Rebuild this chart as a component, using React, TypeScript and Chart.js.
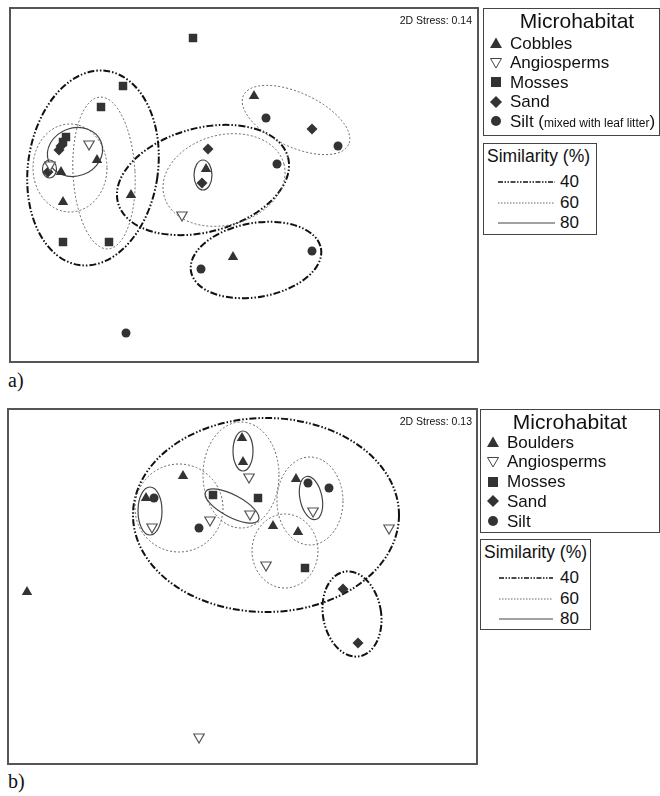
import React, { useEffect, useRef } from "react";
import { Chart, registerables } from "chart.js";
Chart.register(...registerables);

// ---------- Panel a) ----------
const A_CATEGORIES = ["Cobbles", "Angiosperms", "Mosses", "Sand", "Silt"];
const A_COBBLES = [[87, 202], [51, 190], [53, 160], [121, 167], [196, 193], [244, 266], [223, 105]];
const A_ANGIOSPERMS = [[79, 218], [40, 197], [172, 147]];
const A_MOSSES = [[183, 324], [113, 276], [91, 255], [56, 225], [53, 220], [53, 120], [99, 120]];
const A_SAND = [[51, 216], [49, 212], [38, 190], [198, 213], [192, 179], [302, 233]];
const A_SILT = [[256, 244], [328, 216], [267, 198], [191, 93], [302, 111], [116, 29]];
const A_STRESS = "0.14";
// [similarity %, centre x, centre y, radius x, radius y, angle deg]
const A_CLUSTERS = [
  [40, 83, 194, 65, 98, -8],
  [40, 193, 182, 88, 52, 15],
  [40, 246, 102, 66, 37, 10],
  [60, 60, 194, 37, 44, 0],
  [60, 94, 189, 31, 76, 3],
  [60, 214, 182, 62, 45, 15],
  [60, 286, 242, 58, 27, -25],
  [80, 65, 210, 28, 24, 20],
  [80, 39.5, 193, 7, 9, 0],
  [80, 193, 187, 9, 15, 0],
];

// ---------- Panel b) ----------
const B_CATEGORIES = ["Boulders", "Angiosperms", "Mosses", "Sand", "Silt"];
const B_BOULDERS = [[19, 172], [234, 326], [235, 302], [175, 288], [138, 266], [265, 238], [290, 232], [288, 285]];
const B_ANGIOSPERMS = [[191, 27], [241, 287], [144, 237], [242, 250], [202, 244], [258, 199], [305, 253], [381, 236]];
const B_MOSSES = [[205, 269], [250, 266], [297, 196]];
const B_SAND = [[335, 175], [350, 121]];
const B_SILT = [[146, 266], [191, 236], [300, 281], [321, 276]];
const B_STRESS = "0.13";
const B_CLUSTERS = [
  [40, 258, 249, 133, 97, 0],
  [40, 344, 150, 29, 43, 10],
  [60, 171, 256, 44, 44, 0],
  [60, 233, 289, 38, 53, 0],
  [60, 302, 263, 33, 44, 0],
  [60, 277, 213, 33, 37, 0],
  [80, 235, 313, 10, 20, 0],
  [80, 142, 253, 12, 24, 0],
  [80, 224, 258, 30, 11, -28],
  [80, 303, 266, 11, 22, 12],
];

const SIMILARITY_LEVELS = [40, 60, 80];

// ---------- styles ----------
const SANS = '"Liberation Sans", Arial, Helvetica, sans-serif';
const SERIF = '"Liberation Serif", "Times New Roman", serif';
const DARK = "#333";
const KINDS = ["triUp", "triDown", "square", "diamond", "circle"];
const POINT_STYLE: any = {
  triUp: { pointStyle: "triangle", rotation: 0, pointRadius: 6, backgroundColor: DARK, borderColor: DARK, borderWidth: 0 },
  triDown: { pointStyle: "triangle", rotation: 180, pointRadius: 6, backgroundColor: "#fff", borderColor: "#555", borderWidth: 1.2 },
  square: { pointStyle: "rect", rotation: 0, pointRadius: 6, backgroundColor: DARK, borderColor: DARK, borderWidth: 0 },
  diamond: { pointStyle: "rectRot", rotation: 0, pointRadius: 5.5, backgroundColor: DARK, borderColor: DARK, borderWidth: 0 },
  circle: { pointStyle: "circle", rotation: 0, pointRadius: 4.5, backgroundColor: DARK, borderColor: DARK, borderWidth: 0 },
};
const LEVEL_STYLE: any = {
  40: { dash: [7, 2, 1.5, 2, 1.5, 2], width: 2, color: "#111" },
  60: { dash: [2, 2], width: 1, color: "#666" },
  80: { dash: [], width: 1.2, color: "#444" },
};

function Panel({ left, top, xMax, yMax, categories, series, clusters }: any) {
  const ref = useRef<HTMLCanvasElement>(null);
  const W = xMax + 4;
  const H = yMax + 4;
  useEffect(() => {
    const clusterPlugin = {
      id: "clusters",
      beforeDatasetsDraw(chart: any) {
        const { ctx, chartArea, scales } = chart;
        const xs = scales.x;
        const ys = scales.y;
        ctx.save();
        ctx.beginPath();
        ctx.rect(chartArea.left, chartArea.top, chartArea.right - chartArea.left, chartArea.bottom - chartArea.top);
        ctx.clip();
        for (const [lvl, cx, cy, rx, ry, ang] of clusters) {
          const px = xs.getPixelForValue(cx);
          const py = ys.getPixelForValue(cy);
          const prx = Math.abs(xs.getPixelForValue(cx + rx) - px);
          const pry = Math.abs(ys.getPixelForValue(cy + ry) - py);
          const st = LEVEL_STYLE[lvl];
          ctx.beginPath();
          ctx.setLineDash(st.dash);
          ctx.lineWidth = st.width;
          ctx.strokeStyle = st.color;
          ctx.ellipse(px, py, prx, pry, (-ang * Math.PI) / 180, 0, Math.PI * 2);
          ctx.stroke();
        }
        ctx.restore();
      },
      afterDraw(chart: any) {
        const { ctx, chartArea } = chart;
        ctx.save();
        ctx.setLineDash([]);
        ctx.strokeStyle = "#555";
        ctx.lineWidth = 2;
        ctx.strokeRect(chartArea.left, chartArea.top, chartArea.right - chartArea.left, chartArea.bottom - chartArea.top);
        ctx.restore();
      },
    };
    const datasets = series.map((pts: number[][], i: number) => ({
      label: categories[i],
      data: pts.map(([x, y]) => ({ x, y })),
      ...POINT_STYLE[KINDS[i]],
      pointHoverRadius: POINT_STYLE[KINDS[i]].pointRadius,
      showLine: false,
    }));
    const chart = new Chart(ref.current as HTMLCanvasElement, {
      type: "scatter",
      data: { datasets },
      options: {
        animation: false,
        responsive: false,
        maintainAspectRatio: false,
        events: [],
        layout: { padding: 2, autoPadding: false },
        scales: {
          x: { type: "linear", min: 0, max: xMax, display: false },
          y: { type: "linear", min: 0, max: yMax, display: false },
        },
        plugins: { legend: { display: false }, tooltip: { enabled: false } },
      },
      plugins: [clusterPlugin],
    } as any);
    return () => chart.destroy();
  }, []);
  return (
    <canvas
      ref={ref}
      width={W}
      height={H}
      style={{ position: "absolute", left, top, width: W, height: H }}
    />
  );
}

function Txt({ x, base, size, children, family = SANS, align = "left", color = "#111" }: any) {
  const style: any = {
    position: "absolute",
    top: base - 0.8465 * size,
    fontSize: size,
    lineHeight: `${size}px`,
    fontFamily: family,
    whiteSpace: "nowrap",
    color,
  };
  if (align === "left") style.left = x;
  else if (align === "right") style.right = 660 - x;
  else {
    style.left = x;
    style.transform = "translateX(-50%)";
  }
  return <div style={style}>{children}</div>;
}

function Sym({ kind, x, y }: any) {
  let shape: any = null;
  if (kind === "triUp") shape = <polygon points="7,1.5 13,12 1,12" fill={DARK} />;
  if (kind === "triDown") shape = <polygon points="1.5,2.5 12.5,2.5 7,12" fill="#fff" stroke="#444" strokeWidth="1" />;
  if (kind === "square") shape = <rect x="2" y="2" width="10" height="10" fill={DARK} />;
  if (kind === "diamond") shape = <polygon points="7,1 13,7 7,13 1,7" fill={DARK} />;
  if (kind === "circle") shape = <circle cx="7" cy="7" r="5" fill={DARK} />;
  return (
    <svg width={14} height={14} style={{ position: "absolute", left: x - 7, top: y - 7 }}>
      {shape}
    </svg>
  );
}

function LineSample({ level, x1, x2, y }: any) {
  const st = LEVEL_STYLE[level];
  const dash = level === 40 ? "5,1.5,1.5,1.5,1.5,1.5" : level === 60 ? "1.5,1.5" : "none";
  const sw = level === 40 ? 1.6 : 1;
  return (
    <svg width={x2 - x1} height={6} style={{ position: "absolute", left: x1, top: y - 3 }}>
      <line x1={0} y1={3} x2={x2 - x1} y2={3} stroke={st.color} strokeWidth={sw} strokeDasharray={dash} />
    </svg>
  );
}

function Box({ left, top, width, height }: any) {
  return (
    <div
      style={{
        position: "absolute",
        left,
        top,
        width,
        height,
        boxSizing: "border-box",
        border: "1.5px solid #444",
      }}
    />
  );
}

function Legend({ top, left, width, height, titleX, items, symX, textX, first, step, silt }: any) {
  return (
    <>
      <Box left={left} top={top} width={width} height={height} />
      <Txt x={titleX} base={top + 20} size={21} align="center">Microhabitat</Txt>
      {items.map((name: string, i: number) => {
        const base = first + i * step;
        return (
          <React.Fragment key={name}>
            <Sym kind={KINDS[i]} x={symX} y={base - 6} />
            <Txt x={textX} base={base} size={17}>
              {i === 4 && silt ? (
                <>
                  {name} (<span style={{ fontSize: 12 }}>{silt}</span>)
                </>
              ) : (
                name
              )}
            </Txt>
          </React.Fragment>
        );
      })}
    </>
  );
}

function SimLegend({ left, top, width, height, titleX, lineX1, lineX2, numX }: any) {
  const bases = [top + 44, top + 65, top + 85];
  return (
    <>
      <Box left={left} top={top} width={width} height={height} />
      <Txt x={titleX} base={top + 20} size={17.5}>Similarity (%)</Txt>
      {SIMILARITY_LEVELS.map((lvl, i) => (
        <React.Fragment key={lvl}>
          <LineSample level={lvl} x1={lineX1} x2={lineX2} y={bases[i] - 5.5} />
          <Txt x={numX} base={bases[i]} size={17}>{String(lvl)}</Txt>
        </React.Fragment>
      ))}
    </>
  );
}

export default function App() {
  return (
    <div style={{ position: "absolute", left: 0, top: 0, width: 660, height: 796, background: "#fff", overflow: "hidden" }}>
      {/* Panel a */}
      <Panel
        left={8}
        top={6}
        xMax={468}
        yMax={354}
        categories={A_CATEGORIES}
        series={[A_COBBLES, A_ANGIOSPERMS, A_MOSSES, A_SAND, A_SILT]}
        clusters={A_CLUSTERS}
      />
      <Txt x={472} base={24} size={10.5} align="right">{`2D Stress: ${A_STRESS}`}</Txt>
      <Legend
        top={8}
        left={483}
        width={177}
        height={128}
        titleX={577}
        items={A_CATEGORIES}
        symX={496}
        textX={510}
        first={49}
        step={19.5}
        silt="mixed with leaf litter"
      />
      <SimLegend left={483} top={143} width={114} height={92} titleX={487} lineX1={498} lineX2={555} numX={560} />
      <Txt x={8} base={387} size={20} family={SERIF}>a)</Txt>

      {/* Panel b */}
      <Panel
        left={6}
        top={407}
        xMax={469}
        yMax={355}
        categories={B_CATEGORIES}
        series={[B_BOULDERS, B_ANGIOSPERMS, B_MOSSES, B_SAND, B_SILT]}
        clusters={B_CLUSTERS}
      />
      <Txt x={472} base={425} size={10.5} align="right">{`2D Stress: ${B_STRESS}`}</Txt>
      <Legend
        top={409}
        left={480}
        width={180}
        height={124}
        titleX={570}
        items={B_CATEGORIES}
        symX={493}
        textX={507}
        first={448}
        step={19.75}
      />
      <SimLegend left={480} top={539} width={111} height={91} titleX={484} lineX1={499} lineX2={553} numX={560} />
      <Txt x={8} base={788} size={20} family={SERIF}>b)</Txt>
    </div>
  );
}
